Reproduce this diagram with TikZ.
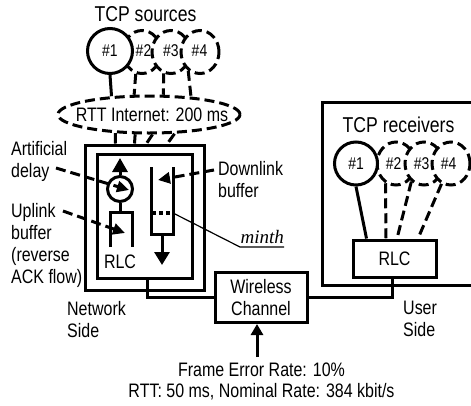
\documentclass[tikz,border=0pt]{standalone}
\usepackage{fontspec}
\setmainfont{Liberation Sans}[FakeStretch=0.82]
\newfontfamily\serifit{Liberation Serif}
\usetikzlibrary{arrows.meta,shapes.geometric}
\begin{document}
\begin{tikzpicture}[x=1pt,y=-1pt,
 thk/.style={line width=3pt},
 dsh/.style={line width=3pt,dash pattern=on 10pt off 5pt},
 lab/.style={font=\fontsize{19.5}{22}\selectfont,inner sep=0pt,align=left},
 hd/.style={font=\fontsize{21.5}{24}\selectfont,inner sep=0pt},
 num/.style={font=\fontsize{17}{20}\selectfont,inner sep=0pt},
 src/.style={circle,thk,draw,fill=white,inner sep=0pt,minimum size=43pt},
 dsrc/.style={ellipse,thk,draw,fill=white,inner sep=0pt,minimum width=38pt,minimum height=43pt,dash pattern=on 10pt off 5pt},
 tip/.style={-{Triangle[length=12pt,width=11pt]}},
 boxd/.style={draw,thk,inner sep=0pt}]
\useasboundingbox (0,0) rectangle (471,405);

% boxes
\node[boxd,minimum width=152pt,minimum height=183pt] (rbox) at (398,193.5) {};
\node[boxd,minimum width=119pt,minimum height=145pt] (netout) at (144.5,217.5) {};
\node[boxd,minimum width=95pt,minimum height=124pt] (netin) at (144.5,216) {};
\node[boxd,minimum width=92pt,minimum height=50pt,lab,align=center] (wc) at (261,297.5) {Wireless\\Channel};
\node[boxd,minimum width=83pt,minimum height=37pt,lab] (rlc) at (394.5,258.5) {RLC};

% internet ellipse
\node[ellipse,dsh,draw,minimum width=182pt,minimum height=37pt,inner sep=0pt] (inet) at (149,114.5) {};
\node[lab] (inett) at (152,115) {RTT Internet: 200 ms};

% headings
\node[hd,anchor=base] (srct) at (145.5,21) {TCP sources};
\node[hd,anchor=base] (rcvt) at (398.5,132) {TCP receivers};

% sources
\node[dsrc] (s2) at (142,52) {};
\node[dsrc] (s3) at (171,52) {};
\node[dsrc] (s4) at (200,52) {};
\node[src,minimum size=45pt] (s1) at (110,51) {};
\node[num] (s1t) at (110,51) {\#1};
\node[num] (s2t) at (143.5,51) {\#2};
\node[num] (s3t) at (171,51) {\#3};
\node[num] (s4t) at (199.5,51) {\#4};

% receivers
\node[dsrc] (r2) at (396,163.5) {};
\node[dsrc] (r3) at (424,163.5) {};
\node[dsrc] (r4) at (451,163.5) {};
\node[src] (r1) at (356,163.5) {};
\node[num] (r1t) at (356,164) {\#1};
\node[num] (r2t) at (393.5,163.5) {\#2};
\node[num] (r3t) at (421.5,163.5) {\#3};
\node[num] (r4t) at (448.5,163.5) {\#4};

% sources -> internet
\draw[thk] (s1.south) -- (inet.154.7);
\draw[dsh] (s2.-106.4) -- (inet.127.4);
\draw[dsh] (s3.-109.3) -- (inet.54.6);
\draw[dsh] (s4.-122.2) -- (inet.23.9);

% internet -> network box
\draw[thk] (inet.-151.6) -- ([xshift=32pt]netout.north west);
\draw[dsh] (inet.-125.4) -- ([xshift=51pt]netout.north west);
\draw[dsh] (inet.-80.8) -- ([xshift=63pt]netout.north west);
\draw[dsh] (inet.-37.9) -- ([xshift=84pt]netout.north west);

% receivers -> RLC
\draw[thk] (r1.south) -- ([xshift=-28pt]rlc.north);
\draw[dsh] (r2.-118.7) -- ([xshift=-8.5pt]rlc.north);
\draw[dsh] (r3.-125.7) -- ([xshift=2.5pt]rlc.north);
\draw[dsh] (r4.-115.5) -- ([xshift=23.5pt]rlc.north);

% uplink path
\node[circle,thk,draw,minimum size=25pt,inner sep=0pt] (dly) at (120,189) {};
\coordinate (uptip) at (120,158);
\draw[thk,-{Triangle[length=14pt,width=15pt]}] (dly.north) -- (uptip);
\coordinate (ub1) at (110,247);
\coordinate (ub2) at (110,212);
\coordinate (ub3) at (132,212);
\coordinate (ub4) at (132,247);
\draw[thk] (ub1) -- (ub2) -- (ub3) -- (ub4);
\draw[thk] (dly.south) -- (dly.south |- ub2);
\node[lab] (rlcl) at (120,261.5) {RLC};

% downlink buffer
\coordinate (db1) at (151,167);
\coordinate (db2) at (151,234);
\coordinate (db3) at (173,234);
\coordinate (db4) at (173,167);
\draw[thk] (db1) -- (db2) -- (db3) -- (db4);
\coordinate (dbm) at (162,234);
\coordinate (dntip) at (162,265);
\draw[thk,-{Triangle[length=13pt,width=15pt]}] (dbm) -- (dntip);
\coordinate (th1) at (152,213);
\coordinate (th2) at (170,213);
\coordinate (th3) at (173,213);
\draw[line width=3.6pt,dash pattern=on 4pt off 3pt] (th1) -- (th2);

% minth
\coordinate (mu1) at (240,247);
\coordinate (mu2) at (284,247);
\draw[line width=1.2pt] (th3) -- (mu1) -- (mu2);
\node[font=\fontsize{19}{21}\selectfont\serifit\itshape,inner sep=0pt,anchor=base west] (minth) at (240.5,243) {minth};

% labels
\node[lab,anchor=north west] (artl) at (11,141) {Artificial\\delay};
\node[lab,anchor=north west] (upll) at (11,203) {Uplink\\buffer\\(reverse\\ACK flow)};
\node[lab,anchor=north west] (netl) at (67,301) {Network\\Side};
\node[lab,anchor=north west] (dnl) at (218,161) {Downlink\\buffer};
\node[lab,anchor=north west] (usl) at (403,301) {User\\Side};
\node[lab,anchor=base] (fer1) at (261.5,376) {Frame Error Rate: 10\%};
\node[lab,anchor=base] (fer2) at (261.5,397) {RTT: 50 ms, Nominal Rate: 384 kbit/s};

% label arrows
\coordinate (a1s) at (56,168);
\coordinate (a1t) at (129,190);
\draw[dsh,tip] (a1s) -- (a1t);
\coordinate (a2s) at (63,211);
\coordinate (a2t) at (125,233);
\draw[dsh,tip] (a2s) -- (a2t);
\coordinate (a3s) at (214,170);
\coordinate (a3t) at (158,180);
\draw[dsh,tip] (a3s) -- (a3t);

% channel links
\draw[thk] ([xshift=2.5pt]netin.south) |- (wc.west);
\draw[thk] (wc.east) -| ([xshift=-2.5pt]rlc.south);
\coordinate (ferp) at (257,357);
\draw[thk,-{Triangle[length=11pt,width=12pt]}] (ferp) -- (ferp |- wc.south);
\end{tikzpicture}
\end{document}
